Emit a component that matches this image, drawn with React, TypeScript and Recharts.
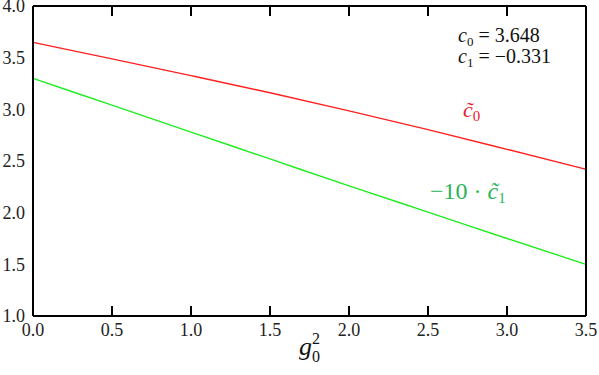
import { LineChart, Line, XAxis, YAxis, Customized } from 'recharts';

// g0^2 values along the x axis
const gSquared = [0, 0.5, 1.0, 1.5, 2.0, 2.5, 3.0, 3.5];
// c0 tilde (red) and -10 * c1 tilde (green)
const c0Tilde = [3.648, 3.488, 3.326, 3.16, 2.985, 2.803, 2.613, 2.42];
const c1Scaled = [3.3, 3.04, 2.78, 2.52, 2.26, 2.005, 1.75, 1.5];

const xTicks = [0, 0.5, 1.0, 1.5, 2.0, 2.5, 3.0, 3.5];
const yTicks = [1.0, 1.5, 2.0, 2.5, 3.0, 3.5, 4.0];

const serif = 'Liberation Serif';
const tickStyle = { fontSize: 18, fill: '#222', fontFamily: serif, style: { fontFamily: serif } };
const axisLine = { stroke: '#000', strokeWidth: 2 };
const tickLine = { stroke: '#000', strokeWidth: 2 };
const noLabel = () => null;

const data = gSquared.map((g, i) => ({ g, c0: c0Tilde[i], c1: c1Scaled[i] }));

function Annotations() {
  const f = { fontFamily: serif };
  return (
    <g>
      <text x={458} y={42} fontSize={20} fill="#111" style={f}>
        <tspan fontStyle="italic">c</tspan>
        <tspan fontSize={13} dy={4}>0</tspan>
        <tspan dy={-4}> = 3.648</tspan>
      </text>
      <text x={458} y={63} fontSize={20} fill="#111" style={f}>
        <tspan fontStyle="italic">c</tspan>
        <tspan fontSize={13} dy={4}>1</tspan>
        <tspan dy={-4}> = −0.331</tspan>
      </text>
      <text x={463} y={117} fontSize={22} fill="#e8202a" style={f}>
        <tspan fontStyle="italic">{'c\u0303'}</tspan>
        <tspan fontSize={15} dy={4}>0</tspan>
      </text>
      <text x={430} y={199} fontSize={24} fill="#2bb35a" style={f}>
        <tspan>−10 · </tspan>
        <tspan fontStyle="italic">{'c\u0303'}</tspan>
        <tspan fontSize={15} dy={4}>1</tspan>
      </text>
      <text x={299} y={355} fontSize={26} fill="#111" style={f}>
        <tspan fontStyle="italic">g</tspan>
        <tspan fontSize={16} dy={-11}>2</tspan>
        <tspan fontSize={16} dx={-8} dy={18}>0</tspan>
      </text>
    </g>
  );
}

export default function App() {
  return (
    <div style={{ position: 'absolute', left: 0, top: 0, background: '#fff', fontFamily: serif }}>
      <LineChart width={599} height={375} data={data} margin={{ top: 6, right: 13, bottom: 0, left: 0 }}>
        <XAxis
          xAxisId="b"
          dataKey="g"
          type="number"
          domain={[0, 3.5]}
          ticks={xTicks}
          tickFormatter={(v: number) => v.toFixed(1)}
          height={59}
          tickLine={false}
          tickSize={0}
          tickMargin={7}
          tick={tickStyle}
          axisLine={axisLine}
          interval={0}
        />
        <XAxis
          xAxisId="bm"
          dataKey="g"
          type="number"
          domain={[0, 3.5]}
          ticks={xTicks}
          mirror
          height={20}
          tickSize={10}
          tick={noLabel}
          axisLine={false}
          tickLine={tickLine}
          interval={0}
        />
        <XAxis
          xAxisId="t"
          dataKey="g"
          orientation="top"
          type="number"
          domain={[0, 3.5]}
          ticks={xTicks}
          mirror
          height={20}
          tickSize={10}
          tick={noLabel}
          axisLine={axisLine}
          tickLine={tickLine}
          interval={0}
        />
        <YAxis
          yAxisId="l"
          type="number"
          domain={[1, 4]}
          ticks={yTicks}
          tickFormatter={(v: number) => v.toFixed(1)}
          width={33}
          tickLine={false}
          tickSize={0}
          tickMargin={8}
          tick={tickStyle}
          axisLine={axisLine}
          interval={0}
        />
        <YAxis
          yAxisId="lm"
          type="number"
          domain={[1, 4]}
          ticks={yTicks}
          mirror
          width={20}
          tickSize={10}
          tick={noLabel}
          axisLine={false}
          tickLine={tickLine}
          interval={0}
        />
        <YAxis
          yAxisId="r"
          orientation="right"
          type="number"
          domain={[1, 4]}
          ticks={yTicks}
          mirror
          width={20}
          tickSize={10}
          tick={noLabel}
          axisLine={axisLine}
          tickLine={tickLine}
          interval={0}
        />
        <Line xAxisId="b" yAxisId="l" type="monotone" dataKey="c0" stroke="#ff2020" strokeWidth={1.4} dot={false} isAnimationActive={false} />
        <Line xAxisId="b" yAxisId="l" type="monotone" dataKey="c1" stroke="#20ee20" strokeWidth={1.4} dot={false} isAnimationActive={false} />
        <Customized component={Annotations} />
      </LineChart>
    </div>
  );
}
